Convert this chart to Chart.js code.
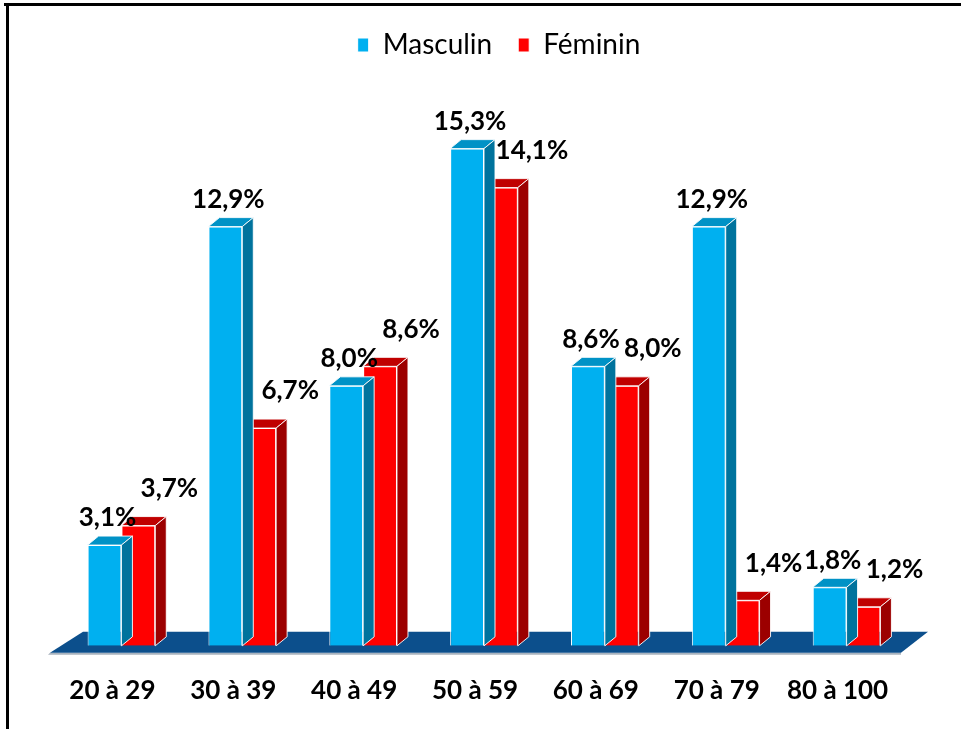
<!DOCTYPE html>
<html>
<head>
<meta charset="utf-8">
<script src="https://cdn.jsdelivr.net/npm/chart.js@4.4.1/dist/chart.umd.min.js"></script>
<style>
  html, body { margin: 0; padding: 0; background: #fff; }
  canvas { display: block; }
</style>
</head>
<body>
<canvas id="ageChart" width="961" height="729"></canvas>
<script>
// Tranches d'âge et pourcentages par sexe
const categories = ['20 à 29', '30 à 39', '40 à 49', '50 à 59', '60 à 69', '70 à 79', '80 à 100'];
const masculin = [3.1, 12.9, 8.0, 15.3, 8.6, 12.9, 1.8];
const feminin = [3.7, 6.7, 8.6, 14.1, 8.0, 1.4, 1.2];

// 3D look: depth of each bar and its face colours
const DEPTH_X = 11;
const DEPTH_Y = 9;
const faces = [
  { top: '#0092C6', side: '#00739D' },
  { top: '#C00000', side: '#9C0000' }
];

function fmt(v) {
  return v.toFixed(1).replace('.', ',') + '%';
}

// floor under the bars + border of the picture
const floorPlugin = {
  id: 'floor',
  afterLayout(chart) {
    // legend sits a little right of the plot centre
    chart.legend.left += 15;
    chart.legend.right += 15;
  },
  beforeDatasetsDraw(chart) {
    const ctx = chart.ctx;
    const area = chart.chartArea;
    const y0 = chart.scales.y.getPixelForValue(0);
    ctx.save();
    // light shadow line under the front edge
    ctx.fillStyle = '#A9B3BE';
    ctx.beginPath();
    ctx.moveTo(area.left - 11, y0 + 7);
    ctx.lineTo(area.right - 6, y0 + 7);
    ctx.lineTo(area.right - 6, y0 + 9);
    ctx.lineTo(area.left - 13, y0 + 9);
    ctx.closePath();
    ctx.fill();
    ctx.fillStyle = '#0C4F8C';
    ctx.beginPath();
    ctx.moveTo(area.left - 11, y0 + 7);
    ctx.lineTo(area.right - 6, y0 + 7);
    ctx.lineTo(area.right + 21, y0 - 14);
    ctx.lineTo(area.left + 22, y0 - 14);
    ctx.closePath();
    ctx.fill();
    ctx.restore();
  },
  afterDraw(chart) {
    const ctx = chart.ctx;
    ctx.save();
    ctx.fillStyle = '#000';
    ctx.fillRect(4, 3, 957, 3);
    ctx.fillRect(6, 3, 3, 726);
    ctx.restore();
  }
};

// top and side faces, drawn after each dataset so the next one covers them
const depthPlugin = {
  id: 'depth',
  afterDatasetDraw(chart, args) {
    const ctx = chart.ctx;
    const meta = args.meta;
    const f = faces[args.index];
    ctx.save();
    ctx.strokeStyle = 'rgba(255,255,255,0.9)';
    ctx.lineWidth = 1;
    meta.data.forEach(bar => {
      const l = bar.x - bar.width / 2;
      const r = bar.x + bar.width / 2;
      const t = bar.y;
      const b = bar.base;
      ctx.fillStyle = f.top;
      ctx.beginPath();
      ctx.moveTo(l, t);
      ctx.lineTo(r, t);
      ctx.lineTo(r + DEPTH_X, t - DEPTH_Y);
      ctx.lineTo(l + DEPTH_X, t - DEPTH_Y);
      ctx.closePath();
      ctx.fill();
      ctx.stroke();
      ctx.fillStyle = f.side;
      ctx.beginPath();
      ctx.moveTo(r, t);
      ctx.lineTo(r + DEPTH_X, t - DEPTH_Y);
      ctx.lineTo(r + DEPTH_X, b - DEPTH_Y);
      ctx.lineTo(r, b);
      ctx.closePath();
      ctx.fill();
      ctx.stroke();
    });
    ctx.restore();
  },
  afterDatasetsDraw(chart) {
    const ctx = chart.ctx;
    ctx.save();
    ctx.font = 'bold 26px Lato';
    ctx.fillStyle = '#000';
    ctx.textAlign = 'center';
    ctx.textBaseline = 'middle';
    chart.data.datasets.forEach((ds, i) => {
      chart.getDatasetMeta(i).data.forEach((bar, j) => {
        if (i === 0) {
          ctx.fillText(fmt(ds.data[j]), bar.x + 3, bar.y - 27);
        } else {
          ctx.fillText(fmt(ds.data[j]), bar.x + 31, bar.y - 37);
        }
      });
    });
    ctx.restore();
  }
};

const ctx = document.getElementById('ageChart').getContext('2d');
const ageChart = new Chart(ctx, {
  type: 'bar',
  data: {
    labels: categories,
    datasets: [{
      label: 'Masculin',
      data: masculin,
      backgroundColor: '#00B0F0',
      borderColor: '#FFFFFF',
      borderWidth: 1
    }, {
      label: 'Féminin',
      data: feminin,
      backgroundColor: '#FF0000',
      borderColor: '#FFFFFF',
      borderWidth: 1
    }]
  },
  options: {
    responsive: false,
    animation: false,
    events: [],
    layout: {
      padding: { top: 5, left: 61, right: 54, bottom: -6 }
    },
    datasets: {
      bar: { categoryPercentage: 0.56, barPercentage: 1.0 }
    },
    plugins: {
      tooltip: { enabled: false },
      legend: {
        position: 'top',
        labels: {
          color: '#000',
          font: { family: 'Lato', size: 28 },
          boxWidth: 11,
          boxHeight: 14,
          padding: 26
        }
      }
    },
    scales: {
      x: {
        grid: { display: false, drawTicks: false },
        border: { display: false },
        ticks: {
          color: '#000',
          font: { family: 'Lato', size: 26, weight: 'bold' },
          padding: 29,
          labelOffset: -9
        }
      },
      y: {
        display: false,
        min: 0,
        max: 17.75
      }
    }
  },
  plugins: [floorPlugin, depthPlugin]
});
</script>
</body>
</html>
